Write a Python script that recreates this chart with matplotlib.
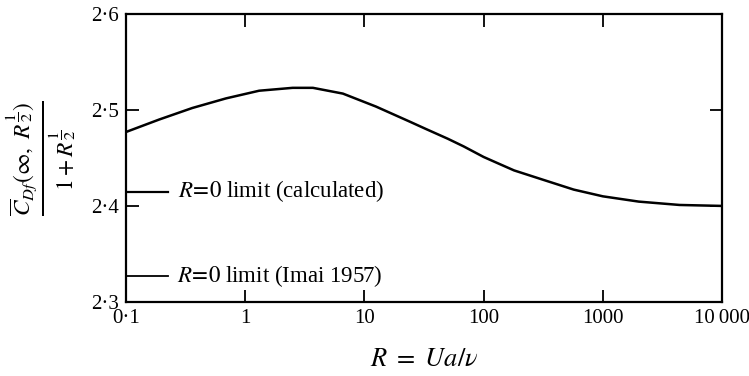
import matplotlib
matplotlib.use('Agg')
import matplotlib.pyplot as plt
import numpy as np

plt.rcParams['font.family'] = ['Liberation Serif', 'DejaVu Serif']
plt.rcParams['mathtext.fontset'] = 'stix'

# values
R = [0.1, 0.19, 0.36, 0.69, 1.31, 2.5, 3.7, 6.6, 12.5, 23.8, 33, 50, 68, 100,
     134, 180, 320, 570, 1000, 2000, 4400, 10000]
cdf = [2.477, 2.490, 2.502, 2.512, 2.520, 2.523, 2.523, 2.517, 2.5035, 2.488,
       2.480, 2.470, 2.462, 2.451, 2.444, 2.437, 2.427, 2.417, 2.410, 2.4045,
       2.401, 2.400]

limit_calc = 2.415
limit_imai = 2.327
limit_end = 0.225

xticks = [0.1, 1, 10, 100, 1000, 10000]
xlabels = ['0\u00b71', '1', '10', '100', '1000', '10\u2009000']
yticks = [2.3, 2.4, 2.5, 2.6]
ylabels = ['2\u00b73', '2\u00b74', '2\u00b75', '2\u00b76']

fig = plt.figure(figsize=(7.49, 3.76), dpi=100)
ax = fig.add_axes([0.1682, 0.197, 0.7958, 0.766])

ax.plot(R, cdf, color='black', lw=1.8)
ax.plot([0.1, limit_end], [limit_calc, limit_calc], color='black', lw=1.6)
ax.plot([0.1, limit_end], [limit_imai, limit_imai], color='black', lw=1.3)

ax.text(0.273, limit_calc, r'$R\!=\!0$ limit (calculated)', fontsize=16.5, va='center')
ax.text(0.27, limit_imai, r'$R\!=\!0$ limit (Imai 1957)', fontsize=16.5, va='center')

ax.set_xscale('log')
ax.set_xlim(0.1, 10000)
ax.set_ylim(2.3, 2.6)
ax.set_xticks(xticks)
ax.set_xticklabels(xlabels)
ax.set_yticks(yticks)
ax.set_yticklabels(ylabels)
ax.minorticks_off()
ax.tick_params(direction='in', length=9, width=1.3, top=True, right=True,
               labelsize=15, pad=5)

for s in ax.spines.values():
    s.set_linewidth(1.6)

ax.set_xlabel(r'$R\ =\ Ua/\nu$', fontsize=19, labelpad=15)
ax.set_ylabel(r'$\frac{\overline{C}_{Df}(\infty,\ R^{\dfrac{1}{2}})}{1+R^{\dfrac{1}{2}}}$',
              fontsize=24, labelpad=10)

fig.savefig('out.png', dpi=100)
